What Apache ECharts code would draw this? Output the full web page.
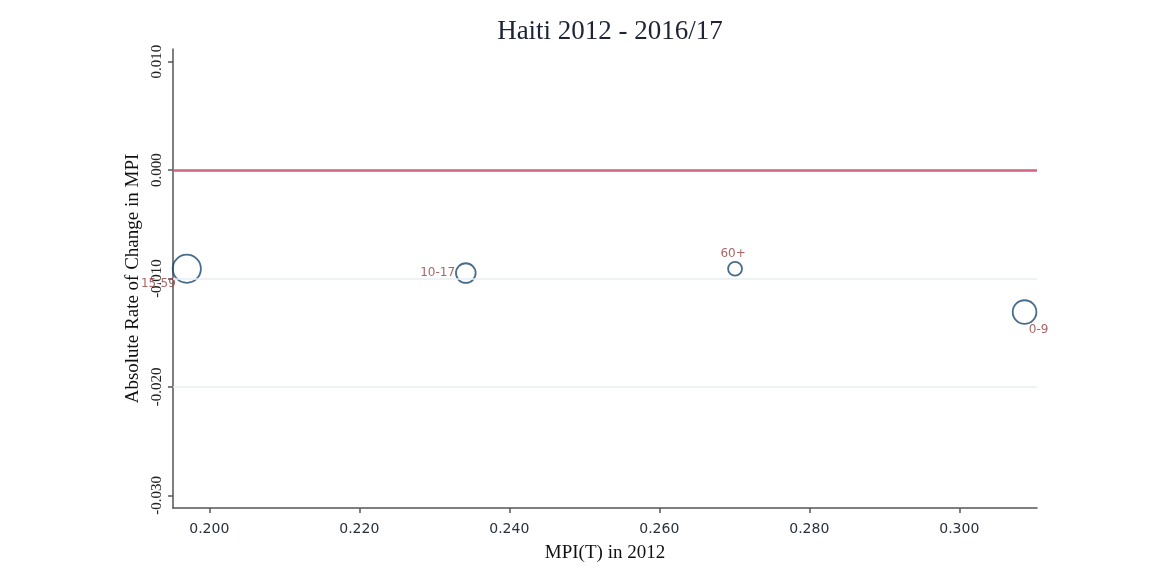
<!DOCTYPE html>
<html>
<head>
<meta charset="utf-8">
<script src="https://cdn.jsdelivr.net/npm/echarts@6/dist/echarts.min.js"></script>
<style>
  html, body { margin: 0; padding: 0; background: #fff; }
  #chart { width: 1151px; height: 575px; }
</style>
</head>
<body>
<div id="chart"></div>
<script>
  // age groups, MPI(T) in 2012, absolute change, population weight
  const groups = ['0-9', '10-17', '15-59', '60+']
  const mpi2012 = [0.3087, 0.2342, 0.1970, 0.2701]
  const absChange = [-0.0131, -0.0095, -0.0091, -0.0091]
  const weights = [0.29, 0.20, 0.41, 0.10]

  const xTicks = [0.200, 0.220, 0.240, 0.260, 0.280, 0.300]
  const yTicks = [-0.030, -0.020, -0.010, 0.000, 0.010]
  const gridLines = [-0.010, -0.020]
  const refLine = 0

  // where each marker label sits (Stata clock positions)
  const labelPlace = {
    '0-9': { position: 'bottom', offset: [14, -6] },
    '10-17': { position: 'left', offset: [5, 0] },
    '15-59': { position: 'left', offset: [9, 15] },
    '60+': { position: 'top', offset: [-2, 4] }
  }

  const serif = '"Liberation Serif", "DejaVu Serif", serif'
  const sans = '"DejaVu Sans", sans-serif'

  const chart = echarts.init(document.getElementById('chart'))

  const points = groups.map((g, i) => ({
    name: g,
    value: [mpi2012[i], absChange[i], weights[i]],
    label: labelPlace[g]
  }))

  chart.setOption({
    animation: false,
    title: {
      text: 'Haiti 2012 - 2016/17',
      left: 605,
      textAlign: 'center',
      top: 13,
      textStyle: { fontFamily: serif, fontSize: 27, fontWeight: 'normal', color: '#1e2436' }
    },
    grid: { left: 173, right: 114, top: 49, bottom: 67 },
    xAxis: {
      type: 'value',
      min: 0.19516,
      max: 0.31036,
      name: 'MPI(T) in 2012',
      nameLocation: 'middle',
      nameGap: 36,
      nameTextStyle: { fontFamily: serif, fontSize: 19, color: '#111' },
      axisLine: { onZero: false, lineStyle: { color: '#555', width: 1.5 } },
      axisTick: { customValues: xTicks, length: 5, lineStyle: { color: '#555', width: 1.5 } },
      axisLabel: {
        customValues: xTicks,
        formatter: v => v.toFixed(3),
        fontFamily: sans, fontSize: 14, color: '#2a3040', margin: 14
      },
      splitLine: { show: false }
    },
    yAxis: {
      type: 'value',
      min: -0.03117,
      max: 0.01117,
      name: 'Absolute Rate of Change in MPI',
      nameLocation: 'middle',
      nameGap: 30,
      nameTextStyle: { fontFamily: serif, fontSize: 19, color: '#111' },
      axisLine: { onZero: false, lineStyle: { color: '#555', width: 1.5 } },
      axisTick: { customValues: yTicks, length: 5, lineStyle: { color: '#555', width: 1.5 } },
      axisLabel: {
        customValues: yTicks,
        rotate: 90,
        formatter: v => v.toFixed(3),
        fontFamily: serif, fontSize: 15, color: '#222', margin: 8
      },
      splitLine: { show: false }
    },
    series: [
      {
        type: 'scatter',
        data: points,
        symbol: 'circle',
        symbolSize: v => 44 * Math.sqrt(v[2]),
        itemStyle: { color: 'rgba(0,0,0,0)', borderColor: '#1a476f', borderWidth: 1.8 },
        label: {
          show: true,
          formatter: p => p.name,
          fontFamily: sans, fontSize: 12, color: '#963c3c', distance: 5
        },
        markLine: {
          silent: true,
          symbol: 'none',
          label: { show: false },
          data: [
            ...gridLines.map(v => ({ yAxis: v, lineStyle: { color: '#e6eef2', width: 1.5, type: 'solid' } })),
            { yAxis: refLine, lineStyle: { color: '#d0647e', width: 2.5, type: 'solid' } }
          ]
        },
        z: 3
      }
    ]
  })
</script>
</body>
</html>
